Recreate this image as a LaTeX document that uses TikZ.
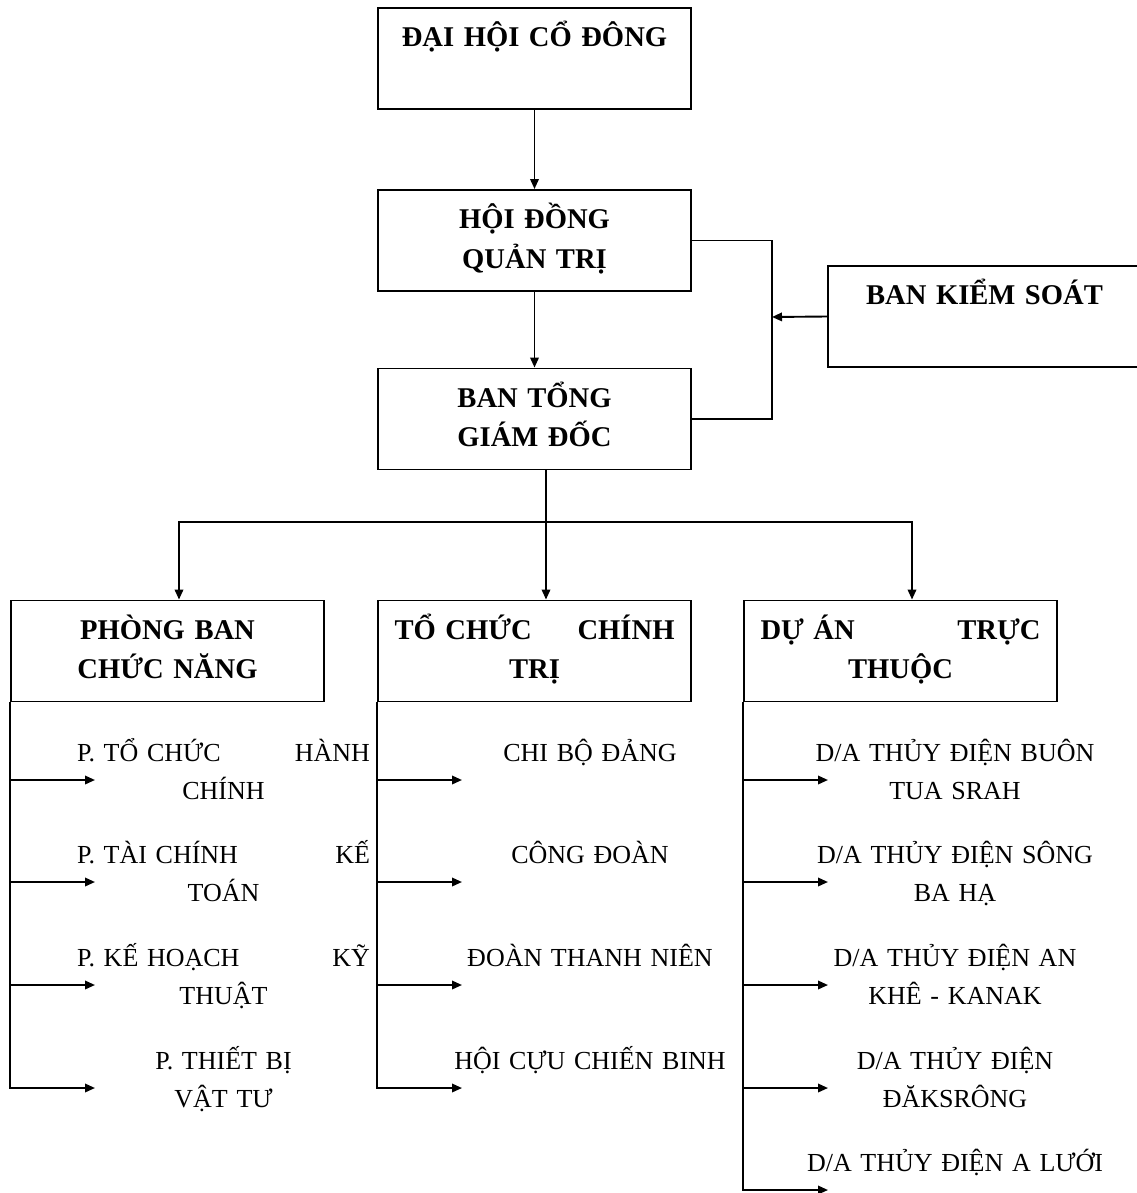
\documentclass[tikz,border=0pt]{standalone}
\usepackage{fontspec}
\setmainfont{Liberation Serif}
\usetikzlibrary{arrows.meta}

\tikzset{
  orgbox/.style={draw, line width=1.9pt, minimum width=313pt, minimum height=101pt,
    text width=280pt, inner xsep=16.5pt, align=center,
    font=\bfseries\fontsize{28.6}{39.5}\selectfont,
    execute at begin node=\strut, execute at end node=\strut},
  entry/.style={anchor=base, text width=293pt, inner sep=0pt, align=center,
    font=\fontsize{26}{38}\selectfont},
  link/.style={line width=1.9pt},
  arr/.style={link, -{Triangle[length=10pt,width=8.5pt]}}
}

\begin{document}
\begin{tikzpicture}[x=1pt, y=-1pt]
  \useasboundingbox (0,0) rectangle (1136,1193);

  % top of the chart
  \node[orgbox] (dhcd) at (534.5,58.5) {ĐẠI HỘI CỔ ĐÔNG\\ \strut};
  \node[orgbox] (hdqt) at (534.5,240.5) {HỘI ĐỒNG\\ QUẢN TRỊ};
  \node[orgbox] (btgd) at (534.5,419) {BAN TỔNG\\ GIÁM ĐỐC};
  \node[orgbox] (bks) at (984.5,316.5) {BAN KIỂM SOÁT\\ \strut};

  \draw[arr] (dhcd.south) -- (hdqt.north);
  \draw[arr] (hdqt.south) -- (btgd.north);
  \coordinate (bend) at (772,317);
  \draw[link] (hdqt.east) -| (bend) |- (btgd.east);
  \draw[arr] (bks.west) -- (bend);

  % three branches
  \node[orgbox] (pb) at (167.5,651) {PHÒNG BAN\\ CHỨC NĂNG};
  \node[orgbox] (tc) at (534.5,651) {TỔ CHỨC\hfill CHÍNH\\ TRỊ};
  \node[orgbox] (da) at (900.5,651) {DỰ ÁN\hfill TRỰC\\ THUỘC};

  \coordinate (hub) at (546,522);
  \draw[link] (btgd.south -| hub) -- (hub);
  \foreach \b in {pb,tc,da}
    \draw[arr] (hub) -| ([xshift=11.5]\b.north);

  % PHONG BAN list
  \foreach \y [count=\i] in {780,882,985,1088} {
    \coordinate (pbt\i) at (95,\y);
    \draw[arr] (pb.south west) |- (pbt\i);
  }
  \node[entry] (pb1) at (223.5,761) {P. TỔ CHỨC\hfill HÀNH\\ CHÍNH};
  \node[entry] (pb2) at (223.5,863) {P. TÀI CHÍNH\hfill KẾ\\ TOÁN};
  \node[entry] (pb3) at (223.5,966) {P. KẾ HOẠCH\hfill KỸ\\ THUẬT};
  \node[entry] (pb4) at (223.5,1069) {P. THIẾT BỊ\\ VẬT TƯ};

  % TO CHUC list
  \foreach \y [count=\i] in {780,882,985,1088} {
    \coordinate (tct\i) at (462,\y);
    \draw[arr] (tc.south west) |- (tct\i);
  }
  \node[entry] (tc1) at (590,761) {CHI BỘ ĐẢNG};
  \node[entry] (tc2) at (590,863) {CÔNG ĐOÀN};
  \node[entry] (tc3) at (590,966) {ĐOÀN THANH NIÊN};
  \node[entry] (tc4) at (590,1069) {HỘI CỰU CHIẾN BINH};

  % DU AN list
  \foreach \y [count=\i] in {780,882,985,1088,1190} {
    \coordinate (dat\i) at (828,\y);
    \draw[arr] (da.south west) |- (dat\i);
  }
  \node[entry, text width=310pt] (da1) at (955,761) {D/A THỦY ĐIỆN BUÔN\\ TUA SRAH};
  \node[entry, text width=310pt] (da2) at (955,863) {D/A THỦY ĐIỆN SÔNG\\ BA HẠ};
  \node[entry, text width=310pt] (da3) at (955,966) {D/A THỦY ĐIỆN AN\\ KHÊ - KANAK};
  \node[entry, text width=310pt] (da4) at (955,1069) {D/A THỦY ĐIỆN\\ ĐĂKSRÔNG};
  \node[entry, text width=310pt] (da5) at (955,1171) {D/A THỦY ĐIỆN A LƯỚI};
\end{tikzpicture}
\end{document}
